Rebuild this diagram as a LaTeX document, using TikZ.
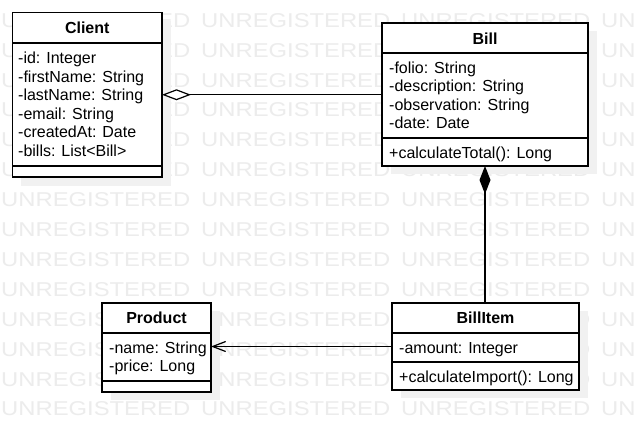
\documentclass[tikz,border=0pt]{standalone}
\usepackage{fontspec}
\setmainfont{Liberation Sans}
\newfontfamily\wmfont[FakeStretch=1.19]{Liberation Sans}
\usetikzlibrary{arrows.meta}
\definecolor{wm}{RGB}{236,236,236}
\definecolor{shadowc}{RGB}{241,241,241}
\begin{document}
\begin{tikzpicture}[x=1pt,y=-1pt,
  box/.style={draw=black, line width=1.2pt, fill=white, anchor=north west, inner sep=0pt, outer sep=0pt},
  shadowbox/.style={fill=shadowc, draw=none, anchor=north west, inner sep=0pt},
  title/.style={font=\bfseries\fontsize{16}{18}\selectfont, anchor=base, inner sep=0pt},
  attr/.style={font=\fontsize{16}{18}\selectfont, anchor=base west, inner sep=0pt},
  wmtext/.style={font=\wmfont\fontsize{20}{24}\selectfont, text=wm, anchor=base west, inner sep=0pt},
  sepline/.style={line width=1.2pt},
  conn/.style={line width=1.2pt, draw=black}
]
\useasboundingbox (0,0) rectangle (637,442);
\clip (0,0) rectangle (637,442);
\fill[white] (0,0) rectangle (637,442);

% watermark
\foreach \r in {0,...,13}{
  \foreach \c in {0,...,3}{
    \node[wmtext] (wm-\r-\c) at ({1+200*\c},{27.2+29.9*\r}) {UNREGISTERED};
  }
}

% shadows
\node[shadowbox, minimum width=149.5pt, minimum height=164.5pt] (client-sh) at (21,21) {};
\node[shadowbox, minimum width=206pt, minimum height=143pt] (bill-sh) at (391,31) {};
\node[shadowbox, minimum width=109pt, minimum height=89pt] (product-sh) at (111,311) {};
\node[shadowbox, minimum width=187pt, minimum height=87pt] (billitem-sh) at (401,311) {};

% boxes
\node[box, minimum width=149.5pt, minimum height=164.5pt] (client) at (12.5,12.5) {};
\node[box, minimum width=206pt, minimum height=143pt] (bill) at (382,23) {};
\node[box, minimum width=109pt, minimum height=89pt] (product) at (102,303) {};
\node[box, minimum width=187pt, minimum height=87pt] (billitem) at (392,303) {};

% separators
\draw[sepline] (client.west |- 0,43) -- (client.east |- 0,43);
\draw[sepline] (client.west |- 0,166) -- (client.east |- 0,166);
\draw[sepline] (bill.west |- 0,53) -- (bill.east |- 0,53);
\draw[sepline] (bill.west |- 0,138) -- (bill.east |- 0,138);
\draw[sepline] (product.west |- 0,333) -- (product.east |- 0,333);
\draw[sepline] (product.west |- 0,381) -- (product.east |- 0,381);
\draw[sepline] (billitem.west |- 0,333) -- (billitem.east |- 0,333);
\draw[sepline] (billitem.west |- 0,362) -- (billitem.east |- 0,362);

% titles
\node[title] (client-t) at (87.25,33.5) {Client};
\node[title] (bill-t) at (485,44.5) {Bill};
\node[title] (product-t) at (156.5,323.5) {Product};
\node[title] (billitem-t) at (485.5,323.5) {BillItem};

% attributes
\foreach \t [count=\i from 0] in {{-id: Integer},{-firstName: String},{-lastName: String},{-email: String},{-createdAt: Date},{-bills: List<Bill>}}{
  \node[attr] (client-a\i) at (18,{63.5+18.6*\i}) {\t};
}
\foreach \t [count=\i from 0] in {{-folio: String},{-description: String},{-observation: String},{-date: Date}}{
  \node[attr] (bill-a\i) at (389,{73.5+18.4*\i}) {\t};
}
\node[attr] (bill-m0) at (389,158.5) {+calculateTotal(): Long};
\node[attr] (product-a0) at (109,353.5) {-name: String};
\node[attr] (product-a1) at (109,371.5) {-price: Long};
\node[attr] (billitem-a0) at (399,353.5) {-amount: Integer};
\node[attr] (billitem-m0) at (399,382.5) {+calculateImport(): Long};

% connectors
\draw[conn, {Diamond[open, fill=white, length=29pt, width=11pt]}-] (client.east) -- (client.east -| bill.west);
\draw[conn, {Diamond[length=28pt, width=11pt]}-] (bill.south) -- (bill.south |- billitem.north);
\draw[conn, -{Straight Barb[length=13pt, width=10pt]}] (billitem.west) -- (billitem.west -| product.east);
\end{tikzpicture}
\end{document}
